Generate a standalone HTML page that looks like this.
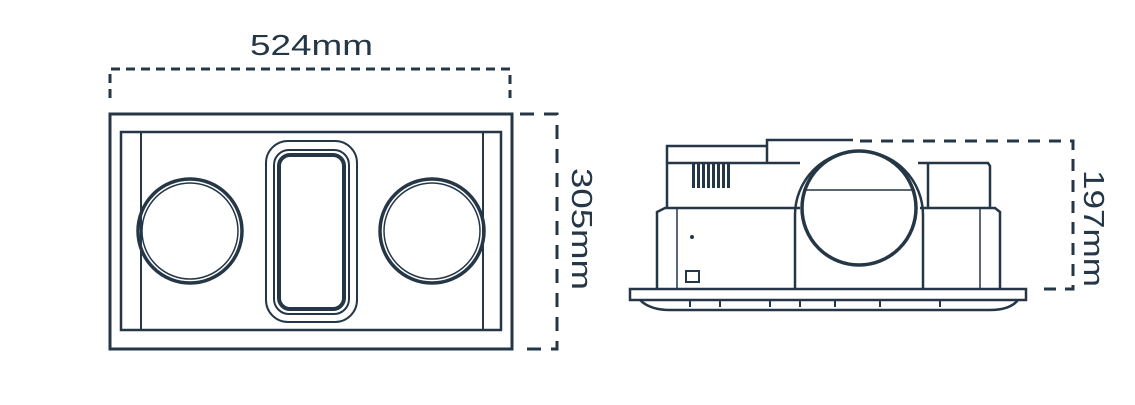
<!DOCTYPE html>
<html><head><meta charset="utf-8"><style>html,body{margin:0;padding:0;background:#fff}svg{display:block}</style></head>
<body>
<svg width="1135" height="405" viewBox="0 0 1135 405" xmlns="http://www.w3.org/2000/svg">
<g fill="none" stroke="#253746" stroke-width="3">
  <path d="M110,98 V69 H510 V98" stroke-dasharray="9,6"/>
  <path d="M520,114 H557 V349 H520" stroke-dasharray="14,10"/>
  <rect x="110" y="114" width="402" height="235"/>
  <rect x="121" y="132" width="380" height="198" stroke-width="2.5"/>
  <line x1="141" y1="132" x2="141" y2="330" stroke-width="2"/>
  <line x1="483" y1="132" x2="483" y2="330" stroke-width="2"/>
  <circle cx="190" cy="231" r="52" stroke-width="3.5"/>
  <circle cx="190" cy="231" r="48" stroke-width="1.5"/>
  <circle cx="432" cy="231" r="52" stroke-width="3.5"/>
  <circle cx="432" cy="231" r="48" stroke-width="1.5"/>
  <rect x="266" y="141" width="91" height="181" rx="22" stroke-width="2"/>
  <rect x="274" y="150" width="75" height="164" rx="15" stroke-width="2"/>
  <rect x="279" y="155" width="65" height="154" rx="11" stroke-width="4"/>
  <path d="M860,141 H1073 V289 H1035" stroke-dasharray="12,9"/>
  <path d="M630,289 H1026 V300 H630 Z" stroke-width="2.5"/>
  <path d="M640,300 Q650,310 670,310 H990 Q1010,310 1018,300" stroke-width="2.5"/>
  <path d="M657,290 V212 L665,208 H800 M920,208 H995 L1000,212 V290" stroke-width="2.5"/>
  <path d="M667,208 V146 H767 V140 H853 M767,146 V163 M667,163 H800 M918,163 H988 L990,166 V208 M928,163 V208" stroke-width="2.5"/>
  <path d="M795,290 V215 A64,64 0 0 1 923,215 V290" stroke-width="2.5"/>
  <circle cx="859" cy="208" r="57" stroke-width="3.5"/>
  <line x1="803" y1="190" x2="915" y2="190" stroke-width="1.5"/>
  <line x1="677" y1="208" x2="677" y2="290" stroke-width="1.5"/>
  <line x1="980" y1="208" x2="980" y2="290" stroke-width="1.5"/>
  <rect x="686" y="271" width="13" height="11" stroke-width="2"/>
  <path d="M690,300 V307 M720,300 V307 M770,300 V307 M800,300 V307 M835,300 V307 M880,300 V307 M940,300 V307" stroke-width="2"/>
</g>
<g fill="#253746">
  <rect x="692" y="162" width="3" height="26"/><rect x="697" y="162" width="3" height="26"/><rect x="702" y="162" width="3" height="26"/><rect x="707" y="162" width="3" height="26"/><rect x="712" y="162" width="3" height="26"/><rect x="717" y="162" width="3" height="26"/><rect x="722" y="162" width="3" height="26"/><rect x="727" y="162" width="3" height="26"/>
  <circle cx="692" cy="237" r="2"/>
</g>
<g fill="#253746" font-family="Liberation Sans, sans-serif" font-size="29">
  <text x="250" y="55" textLength="123" lengthAdjust="spacingAndGlyphs">524mm</text>
  <text transform="translate(572,168) rotate(90)" textLength="122" lengthAdjust="spacingAndGlyphs">305mm</text>
  <text transform="translate(1084,170) rotate(90)" textLength="117" lengthAdjust="spacingAndGlyphs">197mm</text>
</g>
</svg>
</body></html>
